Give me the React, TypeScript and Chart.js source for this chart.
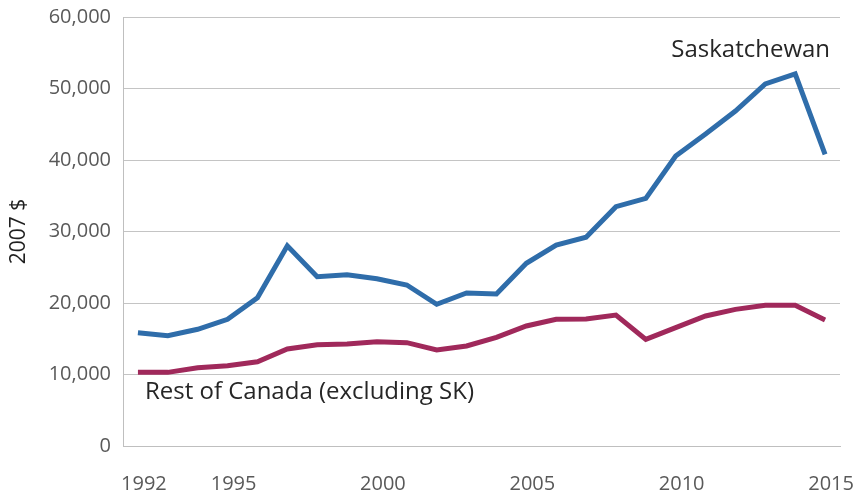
import React, { useEffect, useRef } from "react";
import { Chart, registerables } from "chart.js";

Chart.register(...registerables);

const years = [
  1992, 1993, 1994, 1995, 1996, 1997, 1998, 1999, 2000, 2001, 2002, 2003,
  2004, 2005, 2006, 2007, 2008, 2009, 2010, 2011, 2012, 2013, 2014, 2015,
];
const saskatchewan = [
  15850, 15430, 16320, 17720, 20740, 28000, 23680, 23960, 23400, 22520, 19820,
  21400, 21250, 25550, 28110, 29190, 33470, 34640, 40560, 43640, 46850, 50630,
  52030, 40800,
];
const restOfCanada = [
  10300, 10300, 10950, 11230, 11790, 13570, 14170, 14270, 14590, 14450, 13430,
  13990, 15200, 16780, 17720, 17760, 18320, 14920, 16550, 18180, 19110, 19670,
  19670, 17620,
];
const tickYears = [1992, 1995, 2000, 2005, 2010, 2015];
const yTicks = [0, 10000, 20000, 30000, 40000, 50000, 60000];
const seriesNames = ["Saskatchewan", "Rest of Canada (excluding SK)"];
const yTitle = "2007 $";

const FONT = "'Open Sans', 'Noto Sans', sans-serif";

const labelPlugin = {
  id: "seriesLabels",
  afterDatasetsDraw(chart: any) {
    const { ctx, scales } = chart;
    const x = scales.x;
    const y = scales.y;
    ctx.save();
    ctx.font = `24px ${FONT}`;
    ctx.fillStyle = "#262626";
    ctx.textBaseline = "middle";
    ctx.textAlign = "right";
    ctx.fillText(
      seriesNames[0],
      x.getPixelForValue(years.length - 1) + 5,
      y.getPixelForValue(55300)
    );
    ctx.textAlign = "left";
    ctx.fillText(
      seriesNames[1],
      x.getPixelForValue(0) + 7,
      y.getPixelForValue(7500)
    );
    ctx.restore();
  },
};

export default function App() {
  const ref = useRef<HTMLCanvasElement | null>(null);

  useEffect(() => {
    document.body.style.margin = "0";
    if (!ref.current) return;
    const chart = new Chart(ref.current, {
      type: "line",
      data: {
        labels: years.map(String),
        datasets: [
          {
            label: seriesNames[0],
            data: saskatchewan,
            borderColor: "#2F6DAA",
            backgroundColor: "#2F6DAA",
            borderWidth: 5,
            pointRadius: 0,
            tension: 0,
          },
          {
            label: seriesNames[1],
            data: restOfCanada,
            borderColor: "#A0295B",
            backgroundColor: "#A0295B",
            borderWidth: 5,
            pointRadius: 0,
            tension: 0,
          },
        ],
      },
      options: {
        animation: false,
        responsive: false,
        maintainAspectRatio: false,
        layout: { padding: { left: 6, right: 19, top: 17, bottom: 0 } },
        plugins: {
          legend: { display: false },
          tooltip: { enabled: false },
        },
        scales: {
          x: {
            type: "category",
            offset: true,
            grid: { display: false, drawTicks: false },
            border: { display: true, color: "#BFBFBF", width: 1 },
            ticks: {
              autoSkip: false,
              maxRotation: 0,
              minRotation: 0,
              padding: 26,
              labelOffset: 6,
              color: "#595959",
              font: { family: FONT, size: 20 },
              callback: (_v: any, i: number) =>
                tickYears.includes(years[i]) ? String(years[i]) : "",
            },
            afterFit: (scale: any) => {
              scale.height = 48;
              scale.paddingLeft = 0;
              scale.paddingRight = 0;
              scale.paddingTop = 0;
              scale.paddingBottom = 0;
            },
          },
          y: {
            min: yTicks[0],
            max: yTicks[yTicks.length - 1],
            afterBuildTicks: (scale: any) => {
              scale.ticks = yTicks.map((v) => ({ value: v }));
            },
            grid: { color: "#C4C4C4", lineWidth: 1, drawTicks: false },
            border: { display: true, color: "#BFBFBF", width: 1 },
            ticks: {
              padding: 12,
              color: "#595959",
              font: { family: FONT, size: 20 },
              callback: (v: any) => Number(v).toLocaleString("en-US"),
            },
            title: {
              display: true,
              text: yTitle,
              color: "#1f1f1f",
              font: { family: FONT, size: 21 },
              padding: { top: 0, bottom: 0 },
            },
            afterFit: (scale: any) => {
              scale.width = 117;
              scale.paddingLeft = 0;
              scale.paddingRight = 0;
              scale.paddingTop = 0;
              scale.paddingBottom = 0;
            },
          },
        },
      },
      plugins: [labelPlugin],
    });
    return () => chart.destroy();
  }, []);

  return (
    <div style={{ width: 859, height: 494 }}>
      <canvas ref={ref} width={859} height={494} style={{ display: "block" }} />
    </div>
  );
}
